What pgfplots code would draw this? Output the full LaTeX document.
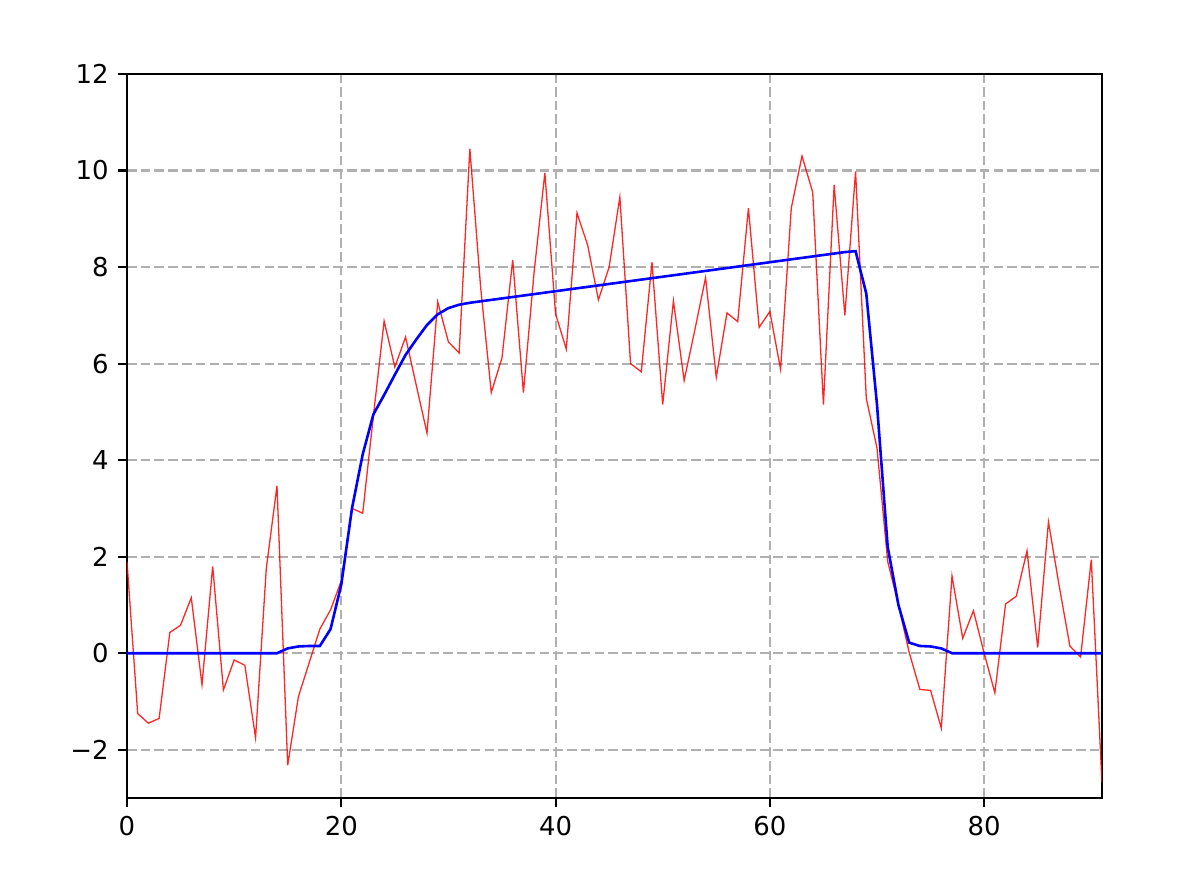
\documentclass[border=0pt]{standalone}
\usepackage{pgfplots}
\pgfplotsset{compat=1.18}
\usepackage{fontspec}
\setmainfont{DejaVu Sans}
\definecolor{gridgray}{HTML}{B0B0B0}
\begin{document}
\begin{tikzpicture}
\begin{axis}[
  scale only axis,
  width=375.7pt, height=279.0pt,
  xmin=0, xmax=91, ymin=-3, ymax=12,
  xtick={0,20,40,60,80},
  xticklabels={0,20,40,60,80},
  ytick={-2,0,2,4,6,8,10,12},
  yticklabels={−2,0,2,4,6,8,10,12},
  tick align=outside,
  major tick length=3.5pt,
  every tick/.style={black, line width=0.8pt},
  axis line style={line width=0.8pt},
  xtick pos=bottom, ytick pos=left,
  grid=major,
  major grid style={gridgray, line width=0.8pt, dash pattern=on 3.7pt off 1.6pt},
  tick label style={font=\fontsize{10}{12}\selectfont},
  clip=true,
]
\addplot[red, line width=0.5pt, opacity=0.85] coordinates {
(0,1.9) (1,-1.25) (2,-1.45) (3,-1.35) (4,0.43) (5,0.58) (6,1.15) (7,-0.65) (8,1.8) (9,-0.76)
(10,-0.14) (11,-0.25) (12,-1.75) (13,1.75) (14,3.47) (15,-2.32) (16,-0.9) (17,-0.2) (18,0.5) (19,0.9)
(20,1.5) (21,3.0) (22,2.9) (23,4.92) (24,6.88) (25,5.93) (26,6.55) (27,5.55) (28,4.56) (29,7.28)
(30,6.45) (31,6.22) (32,10.45) (33,7.6) (34,5.4) (35,6.12) (36,8.15) (37,5.4) (38,7.9) (39,9.95)
(40,7.03) (41,6.3) (42,9.12) (43,8.45) (44,7.32) (45,8.0) (46,9.45) (47,6.0) (48,5.83) (49,8.1)
(50,5.15) (51,7.3) (52,5.65) (53,6.7) (54,7.78) (55,5.72) (56,7.05) (57,6.87) (58,9.22) (59,6.75)
(60,7.08) (61,5.88) (62,9.22) (63,10.3) (64,9.55) (65,5.15) (66,9.7) (67,7.0) (68,9.98) (69,5.28)
(70,4.25) (71,1.9) (72,1.0) (73,0.02) (74,-0.75) (75,-0.77) (76,-1.55) (77,1.6) (78,0.31) (79,0.88)
(80,0.0) (81,-0.82) (82,1.02) (83,1.18) (84,2.12) (85,0.12) (86,2.72) (87,1.4) (88,0.15) (89,-0.08)
(90,1.94) (91,-2.69)
};
\addplot[blue, line width=1pt] coordinates {
(0,0) (1,0) (2,0) (3,0) (4,0) (5,0) (6,0) (7,0) (8,0) (9,0)
(10,0) (11,0) (12,0) (13,0) (14,0) (15,0.1) (16,0.14) (17,0.15) (18,0.15) (19,0.5)
(20,1.42) (21,3.0) (22,4.12) (23,4.95) (24,5.35) (25,5.77) (26,6.18) (27,6.5) (28,6.8) (29,7.02)
(30,7.15) (31,7.22) (32,7.26) (33,7.29) (34,7.32) (35,7.35) (36,7.38) (37,7.41) (38,7.44) (39,7.47)
(40,7.50) (41,7.53) (42,7.56) (43,7.59) (44,7.62) (45,7.65) (46,7.68) (47,7.71) (48,7.74) (49,7.77)
(50,7.80) (51,7.83) (52,7.86) (53,7.89) (54,7.92) (55,7.95) (56,7.98) (57,8.01) (58,8.04) (59,8.07)
(60,8.10) (61,8.13) (62,8.16) (63,8.19) (64,8.22) (65,8.25) (66,8.28) (67,8.31) (68,8.33) (69,7.45)
(70,5.15) (71,2.2) (72,1.0) (73,0.22) (74,0.15) (75,0.14) (76,0.1) (77,0) (78,0) (79,0)
(80,0) (81,0) (82,0) (83,0) (84,0) (85,0) (86,0) (87,0) (88,0) (89,0)
(90,0) (91,0)
};
\coordinate (SW) at (rel axis cs:0,0);
\coordinate (NE) at (rel axis cs:1,1);
\end{axis}
\pgfresetboundingbox
\path[use as bounding box] ([shift={(-48.93pt,-34.29pt)}]SW) rectangle ([shift={(36.22pt,28.51pt)}]NE);
\end{tikzpicture}
\end{document}
